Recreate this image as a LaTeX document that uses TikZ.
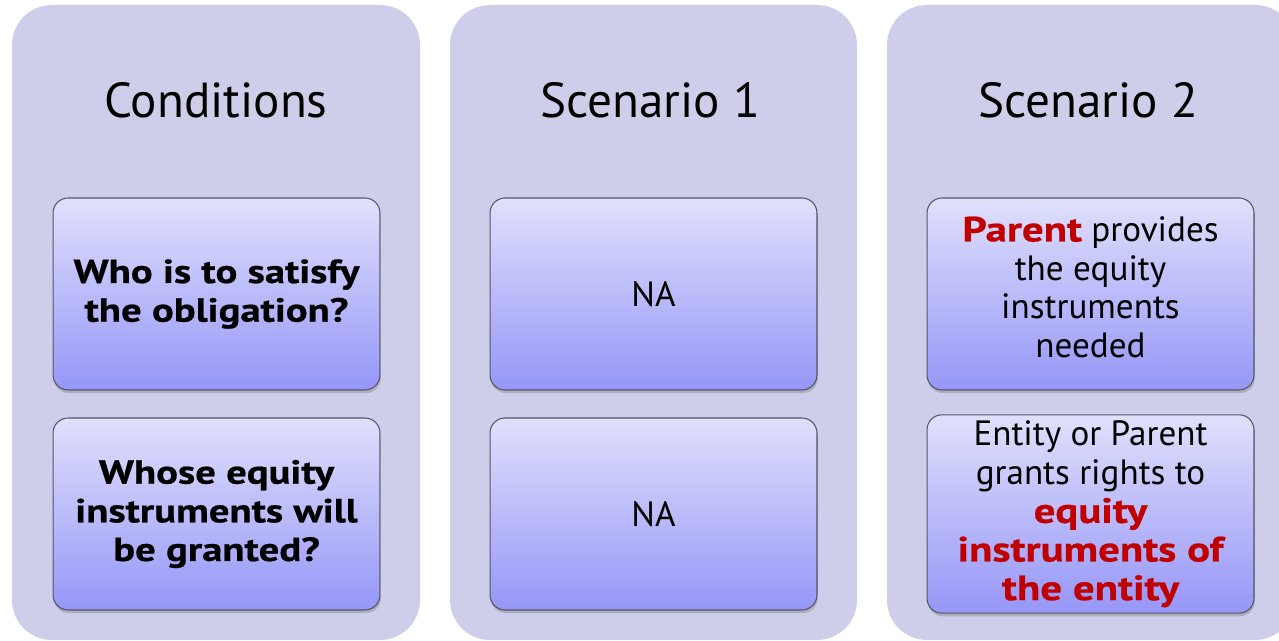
\documentclass[tikz,border=0pt]{standalone}
\usepackage{fontspec}
\setmainfont{PT Sans}
\newfontface\widebold{PT Sans Bold}[FakeStretch=1.22,FakeBold=0.6]
\usetikzlibrary{shadows}

\definecolor{colfill}{RGB}{206,206,234}
\definecolor{boxtop}{RGB}{224,224,252}
\definecolor{boxbot}{RGB}{150,150,248}
\definecolor{boxline}{RGB}{85,85,105}
\definecolor{redword}{RGB}{192,0,0}

\begin{document}
\begin{tikzpicture}[x=0.02cm,y=-0.02cm,
    column/.style={fill=colfill, rounded corners=0.8cm},
    heading/.style={font=\fontsize{28}{34}\selectfont},
    cell/.style={draw=boxline, line width=0.6pt, rounded corners=0.3cm,
        top color=boxtop, bottom color=boxbot,
        drop shadow={shadow xshift=0.5pt, shadow yshift=-1.8pt, opacity=0.4},
        minimum width=6.54cm, minimum height=3.84cm, align=center,
        font=\fontsize{20}{22}\selectfont}]
    \useasboundingbox (0,0) rectangle (1279,641);
    \clip (0,0) rectangle (1279,641);

    % the three columns
    \fill[column] (12,5) rectangle (420,640);
    \fill[column] (450,5) rectangle (857,640);
    \fill[column] (887,5) rectangle (1295,640);

    \node[heading] (condtitle) at (216,100) {Conditions};
    \node[heading] (onetitle) at (650,100) {Scenario 1};
    \node[heading] (twotitle) at (1088,100) {Scenario 2};

%    conditions
    \node[cell, font=\fontsize{19}{22}\selectfont\widebold] (condwho) at (216.5,294) {Who is to satisfy\\the obligation?};
    \node[cell, font=\fontsize{19}{22}\selectfont\widebold] (condwhose) at (216.5,514) {Whose equity\\instruments will\\be granted?};

%    scenario 1
    \node[cell] (onewho) at (653.5,294) {NA};
    \node[cell] (onewhose) at (653.5,514) {NA};

%    scenario 2
    \node[cell] (twowho) at (1090.5,294) {\textcolor{redword}{\widebold Parent} provides\\the equity\\instruments\\needed\rule[-8pt]{0pt}{1pt}};
    \node[cell] (twowhose) at (1090.5,514) {Entity or Parent\\grants rights to\\\textcolor{redword}{\widebold equity}\\\textcolor{redword}{\widebold instruments of}\\\textcolor{redword}{\widebold the entity}};

\end{tikzpicture}
\end{document}
